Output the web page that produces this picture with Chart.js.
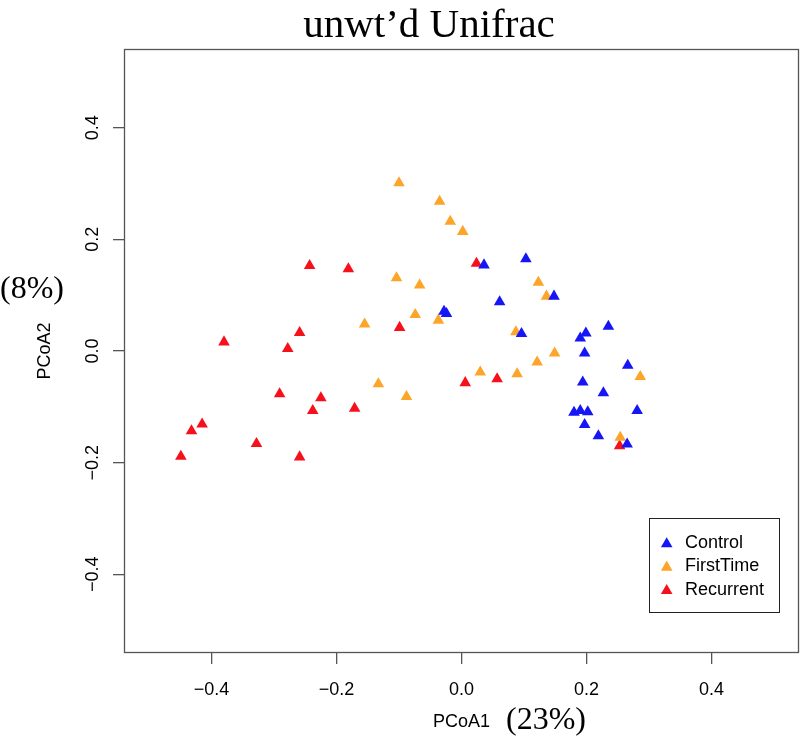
<!DOCTYPE html>
<html>
<head>
<meta charset="utf-8">
<script src="https://cdn.jsdelivr.net/npm/chart.js"></script>
<style>
  body { margin: 0; background: #fff; }
  #wrap { width: 800px; height: 747px; }
</style>
</head>
<body>
<div id="wrap"><canvas id="pcoa" width="800" height="747"></canvas></div>
<script>
// PCoA coordinates
const controlX = [0.036, 0.103, -0.028, -0.024, 0.061, 0.148, 0.096, 0.235, 0.199, 0.190, 0.197,
                  0.266, 0.194, 0.227, 0.281, 0.180, 0.190, 0.202, 0.197, 0.219, 0.265];
const controlY = [0.154, 0.165, 0.071, 0.067, 0.088, 0.098, 0.031, 0.044, 0.032, 0.023, -0.004,
                  -0.026, -0.056, -0.075, -0.107, -0.110, -0.107, -0.109, -0.132, -0.152, -0.167];

const firstX = [-0.100, -0.035, -0.018, 0.002, -0.104, -0.067, -0.074, -0.155, -0.037, 0.087,
                0.030, 0.089, -0.133, -0.088, 0.123, 0.136, 0.149, 0.121, 0.286, 0.254];
const firstY = [0.301, 0.268, 0.232, 0.214, 0.131, 0.118, 0.065, 0.048, 0.055, 0.034,
                -0.038, -0.041, -0.059, -0.082, 0.123, 0.098, -0.004, -0.020, -0.046, -0.155];

const recurX = [-0.243, -0.181, -0.259, -0.380, -0.278, -0.291, -0.225, -0.238, -0.171, -0.415,
                -0.432, -0.328, -0.449, -0.259, 0.024, -0.099, 0.006, 0.057, 0.253];
const recurY = [0.153, 0.147, 0.033, 0.016, 0.004, -0.077, -0.084, -0.107, -0.103, -0.131,
                -0.143, -0.166, -0.189, -0.190, 0.157, 0.042, -0.057, -0.050, -0.170];

const groups = ["Control", "FirstTime", "Recurrent"];
const groupColors = ["#1515f5", "#fca528", "#f5101c"];
const xTicks = [-0.4, -0.2, 0.0, 0.2, 0.4];
const yTicks = [-0.4, -0.2, 0.0, 0.2, 0.4];

const chartTitle = "unwt\u2019d Unifrac";
const xLabel = "PCoA1", xPct = "(23%)";
const yLabel = "PCoA2", yPct = "(8%)";

function pts(xs, ys) {
  return xs.map((x, i) => ({ x: x, y: ys[i] }));
}

function fmt(v) {
  if (Math.abs(v) < 1e-9) return "0.0";
  return v.toFixed(1).replace("-", "\u2212");
}

const sans = "'Liberation Sans', Arial, sans-serif";
const serif = "'Liberation Serif', 'Times New Roman', serif";

// frame box + extra text, R style
const extras = {
  id: "extras",
  afterDatasetsDraw(chart) {
    const ctx = chart.ctx;
    const a = chart.chartArea;
    ctx.save();
    ctx.strokeStyle = "#555";
    ctx.lineWidth = 1.3;
    ctx.strokeRect(a.left + 0.5, a.top + 0.5, a.right - a.left - 1, a.bottom - a.top - 1);

    // legend box
    const lx = 649.5, ly = 518.5, lw = 130, lh = 94;
    ctx.fillStyle = "#fff";
    ctx.fillRect(lx, ly, lw, lh);
    ctx.strokeStyle = "#222";
    ctx.lineWidth = 1;
    ctx.strokeRect(lx, ly, lw, lh);
    ctx.font = "18px " + sans;
    ctx.textAlign = "left";
    ctx.textBaseline = "middle";
    chart.data.datasets.forEach((ds, i) => {
      const cy = 543 + i * 23.3;
      ctx.fillStyle = ds.backgroundColor;
      Chart.helpers.drawPoint(ctx, { pointStyle: "triangle", radius: 6.7, borderWidth: 0 }, 666.7, cy + 1);
      ctx.fillStyle = "#000";
      ctx.fillText(ds.label, 685, cy);
    });
    ctx.restore();
  },
  afterDraw(chart) {
    const ctx = chart.ctx;
    const ys = chart.scales.y;
    ctx.save();
    ctx.fillStyle = "#000";

    // y tick labels, rotated like R
    ctx.font = "18px " + sans;
    ctx.textAlign = "center";
    ctx.textBaseline = "alphabetic";
    ys.ticks.forEach(t => {
      const py = ys.getPixelForValue(t.value);
      ctx.save();
      ctx.translate(98, py);
      ctx.rotate(-Math.PI / 2);
      ctx.fillText(fmt(t.value), 0, 0);
      ctx.restore();
    });

    // y axis title
    ctx.save();
    ctx.translate(50, (chart.chartArea.top + chart.chartArea.bottom) / 2);
    ctx.rotate(-Math.PI / 2);
    ctx.fillText(yLabel, 0, 0);
    ctx.restore();

    // x axis title
    ctx.textAlign = "center";
    ctx.fillText(xLabel, (chart.chartArea.left + chart.chartArea.right) / 2, 727);

    // serif bits
    ctx.font = "32px " + serif;
    ctx.textAlign = "left";
    ctx.fillText(xPct, 506, 729);
    ctx.fillText(yPct, 0, 298);

    ctx.font = "41px " + serif;
    ctx.textAlign = "center";
    ctx.fillText(chartTitle, 429, 37);
    ctx.restore();
  }
};

const datasets = [
  { label: groups[0], data: pts(controlX, controlY) },
  { label: groups[1], data: pts(firstX, firstY) },
  { label: groups[2], data: pts(recurX, recurY) }
].map((d, i) => Object.assign(d, {
  backgroundColor: groupColors[i],
  borderColor: groupColors[i],
  pointStyle: "triangle",
  pointRadius: 6.7,
  pointBorderWidth: 0
}));

new Chart(document.getElementById("pcoa").getContext("2d"), {
  type: "scatter",
  data: { datasets: datasets },
  options: {
    responsive: false,
    animation: false,
    events: [],
    layout: { autoPadding: false, padding: { left: 0, right: 1, top: 49, bottom: 0 } },
    plugins: {
      legend: { display: false },
      title: { display: false },
      tooltip: { enabled: false }
    },
    scales: {
      x: {
        type: "linear",
        min: -0.54,
        max: 0.54,
        afterBuildTicks: s => { s.ticks = xTicks.map(v => ({ value: v })); },
        afterFit: s => { s.height = 94; s.paddingLeft = 0; s.paddingRight = 0; },
        ticks: {
          color: "#000",
          font: { size: 18, family: sans },
          padding: 15,
          maxRotation: 0,
          callback: v => fmt(v)
        },
        grid: { drawOnChartArea: false, drawTicks: true, tickLength: 11, color: "#555", lineWidth: 1.3 },
        border: { display: false }
      },
      y: {
        type: "linear",
        min: -0.541,
        max: 0.541,
        afterBuildTicks: s => { s.ticks = yTicks.map(v => ({ value: v })); },
        afterFit: s => { s.width = 124; s.paddingTop = 0; s.paddingBottom = 0; },
        ticks: { display: false },
        grid: { drawOnChartArea: false, drawTicks: true, tickLength: 11, color: "#555", lineWidth: 1.3 },
        border: { display: false }
      }
    }
  },
  plugins: [extras]
});
</script>
</body>
</html>
